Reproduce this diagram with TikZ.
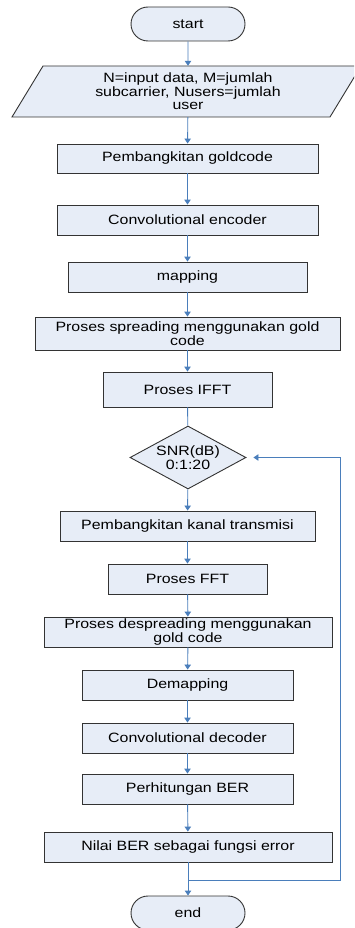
\documentclass[tikz,border=0pt]{standalone}
\usepackage{fontspec}
\setmainfont[FakeStretch=1.18]{Liberation Sans}
\usetikzlibrary{arrows.meta,shapes.geometric,shapes.misc}
\definecolor{boxfill}{HTML}{E7EDF7}
\definecolor{boxline}{HTML}{333333}
\definecolor{flowblue}{HTML}{4A7EBB}
\begin{document}
\begin{tikzpicture}[x=1pt,y=1pt,
  txt/.style={align=center, inner sep=0pt, font=\fontsize{13.5}{13.5}\selectfont},
  box/.style={txt, draw=boxline, fill=boxfill, line width=0.9pt, rectangle, minimum height=30},
  term/.style={box, rounded rectangle, minimum width=114, minimum height=34},
  decision/.style={txt, draw=boxline, fill=boxfill, line width=0.9pt, diamond, aspect=1.84, minimum width=116, minimum height=63},
  flow/.style={draw=flowblue, line width=0.9pt, -{Triangle[length=5pt,width=6.5pt]}},
  plain/.style={draw=flowblue, line width=0.9pt}
]
\useasboundingbox (0,0) rectangle (354,-928);
\clip (0,0) rectangle (354,-928);

\node[term] (start) at (188,-24) {start};

\draw[boxline, fill=boxfill, line width=0.9pt] (43,-66) -- (361,-66) -- (330,-117) -- (12,-117) -- cycle;
\node[txt, minimum width=280, minimum height=51] (input) at (188,-91.5) {N=input data, M=jumlah\\subcarrier, Nusers=jumlah\\user};

\node[box, minimum width=261, minimum height=29] (gold) at (187.5,-158.5) {Pembangkitan goldcode};
\node[box, minimum width=261] (enc) at (187.5,-220) {Convolutional encoder};
\node[box, minimum width=239] (map) at (187.5,-277) {mapping};
\node[box, minimum width=305, minimum height=33] (spr) at (187.5,-333.5) {Proses spreading menggunakan gold\\code};
\node[box, minimum width=169, minimum height=35] (ifft) at (187.5,-389.5) {Proses IFFT};
\node[decision] (dia) at (188,-457.5) {SNR(dB)\\0:1:20};
\node[box, minimum width=255] (kanal) at (187.5,-526) {Pembangkitan kanal transmisi};
\node[box, minimum width=159] (fft) at (187.5,-579) {Proses FFT};
\node[box, minimum width=288] (desp) at (188,-632) {Proses despreading menggunakan\\gold code};
\node[box, minimum width=211] (demap) at (187.5,-685) {Demapping};
\node[box, minimum width=211] (dec) at (187.5,-738) {Convolutional decoder};
\node[box, minimum width=211] (ber) at (187.5,-789) {Perhitungan BER};
\node[box, minimum width=288] (nilai) at (188,-847) {Nilai BER sebagai fungsi error};
\node[term] (end) at (188,-913) {end};

\draw[flow] (start) -- (input);
\draw[flow] (input) -- (gold);
\draw[flow] (gold) -- (enc);
\draw[flow] (enc) -- (map);
\draw[flow] (map) -- (spr);
\draw[flow] (spr) -- (ifft);
\draw[plain] (ifft) -- (dia);
\draw[flow] (dia) -- (kanal);
\draw[flow] (kanal) -- (fft);
\draw[flow] (fft) -- (desp);
\draw[flow] (desp) -- (demap);
\draw[flow] (demap) -- (dec);
\draw[flow] (dec) -- (ber);
\draw[flow] (ber) -- (nilai);
\draw[flow] (nilai) -- (end);

\coordinate (j) at (188,-880);
\coordinate (lr) at (340,-880);
\coordinate (ur) at (dia.east -| lr);
\coordinate (tip) at ([xshift=7pt]dia.east);
\draw[flow] (j) -- (lr) -- (ur) -- (tip);
\end{tikzpicture}
\end{document}
